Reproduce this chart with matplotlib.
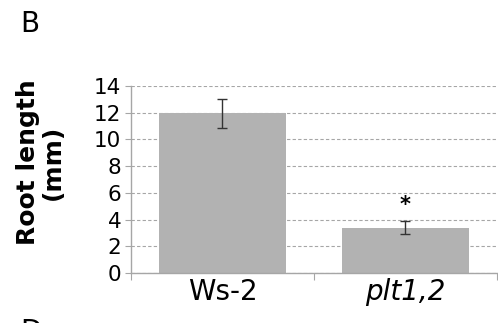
import matplotlib
matplotlib.use("Agg")
import matplotlib.pyplot as plt
import numpy as np

# root length per genotype (mm)
genotypes = ["Ws-2", "plt1,2"]
root_length = [11.95, 3.38]
root_err = [1.08, 0.48]
significant = [False, True]

BAR_COLOR = "#b2b2b2"
GRID_COLOR = "#a6a6a6"

fig = plt.figure(figsize=(4.98, 3.23), dpi=100)
ax = fig.add_axes([0.263, 0.155, 0.735, 0.579])

x = np.arange(len(genotypes))
ax.bar(x, root_length, width=0.69, color=BAR_COLOR, zorder=2)
ax.errorbar(x, root_length, yerr=root_err, fmt="none", ecolor="#333333",
            elinewidth=1.0, capsize=3.5, capthick=1.0, zorder=3)

for xi, val, err, sig in zip(x, root_length, root_err, significant):
    if sig:
        ax.text(xi, val + err + 0.45, "*", ha="center", va="bottom",
                fontsize=15, fontweight="bold", color="black")

ax.set_xlim(-0.5, 1.5)
ax.set_ylim(0, 14)
ax.set_yticks(np.arange(0, 15, 2))
ax.tick_params(axis="y", labelsize=15.5, length=4, color=GRID_COLOR, pad=3)
ax.yaxis.grid(True, linestyle=(0, (3, 2)), color=GRID_COLOR, linewidth=0.8, zorder=0)
ax.set_axisbelow(True)

# category boundaries as ticks, names centred under the bars
ax.set_xticks([-0.5, 0.5, 1.5])
ax.set_xticklabels([])
ax.tick_params(axis="x", length=5, color=GRID_COLOR)
ax.set_xticks(x, minor=True)
ax.set_xticklabels(genotypes, minor=True, fontsize=20)
ax.tick_params(axis="x", which="minor", length=0, pad=4)
ax.get_xticklabels(minor=True)[1].set_style("italic")

for side in ["top", "right"]:
    ax.spines[side].set_visible(False)
for side in ["left", "bottom"]:
    ax.spines[side].set_color(GRID_COLOR)
    ax.spines[side].set_linewidth(1.0)

fig.text(0.081, 0.497, "Root length\n(mm)", rotation=90, ha="center", va="center",
         fontsize=18, fontweight="bold", linespacing=1.05)
fig.text(0.04, 0.927, "B", fontsize=20, ha="left", va="center")
fig.text(0.04, -0.028, "D", fontsize=20, ha="left", va="center")

fig.savefig("out.png", dpi=100)
